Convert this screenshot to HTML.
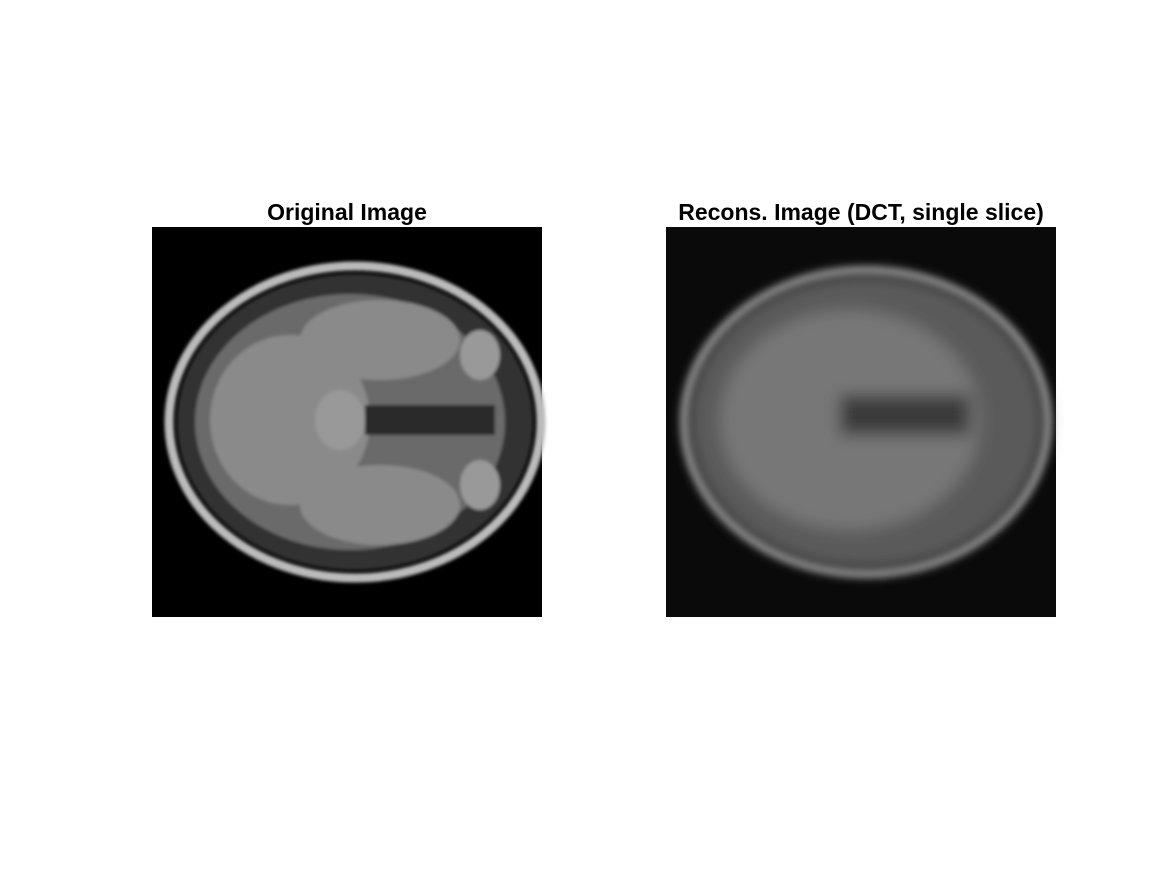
<!DOCTYPE html>
<html><head><meta charset="utf-8"><style>
html,body{margin:0;padding:0;background:#fff;width:1167px;height:875px;overflow:hidden}
.t{font-family:"Liberation Sans",sans-serif;font-weight:bold;font-size:23px;fill:#000}
</style></head><body>
<svg width="1167" height="875">
<defs>
<filter id="b1"><feGaussianBlur stdDeviation="1.5"/></filter>
<filter id="b2"><feGaussianBlur stdDeviation="4"/></filter>
<filter id="b3"><feGaussianBlur stdDeviation="8"/></filter>
</defs>
<text class="t" x="347" y="220" text-anchor="middle">Original Image</text>
<text class="t" x="861" y="220" text-anchor="middle">Recons. Image (DCT, single slice)</text>
<g>
<rect x="152" y="227" width="390" height="390" fill="#000"/>
<g filter="url(#b1)">
<ellipse cx="355" cy="422" rx="186" ry="156" fill="none" stroke="#bbb" stroke-width="9"/>
<ellipse cx="355" cy="422" rx="178" ry="148" fill="#333"/>
<ellipse cx="350" cy="422" rx="155" ry="128" fill="#6a6a6a"/>
<ellipse cx="290" cy="420" rx="80" ry="85" fill="#8a8a8a"/>
<ellipse cx="380" cy="340" rx="80" ry="40" fill="#8a8a8a"/>
<ellipse cx="380" cy="505" rx="80" ry="40" fill="#8a8a8a"/>
<ellipse cx="340" cy="420" rx="25" ry="30" fill="#999"/>
<rect x="365" y="405" width="130" height="30" fill="#2a2a2a"/>
<ellipse cx="480" cy="355" rx="20" ry="25" fill="#999"/>
<ellipse cx="480" cy="485" rx="20" ry="25" fill="#999"/>
</g>
</g>
<g>
<rect x="666" y="227" width="390" height="390" fill="#0a0a0a"/>
<g filter="url(#b3)">
<ellipse cx="866" cy="422" rx="180" ry="150" fill="#5a5a5a"/>
<ellipse cx="850" cy="420" rx="130" ry="110" fill="#777"/>
<rect x="840" y="395" width="130" height="40" fill="#3a3a3a"/>
</g>
<ellipse cx="866" cy="422" rx="182" ry="152" fill="none" stroke="#aaa" stroke-width="6" filter="url(#b2)"/>
</g>
</svg>
</body></html>
